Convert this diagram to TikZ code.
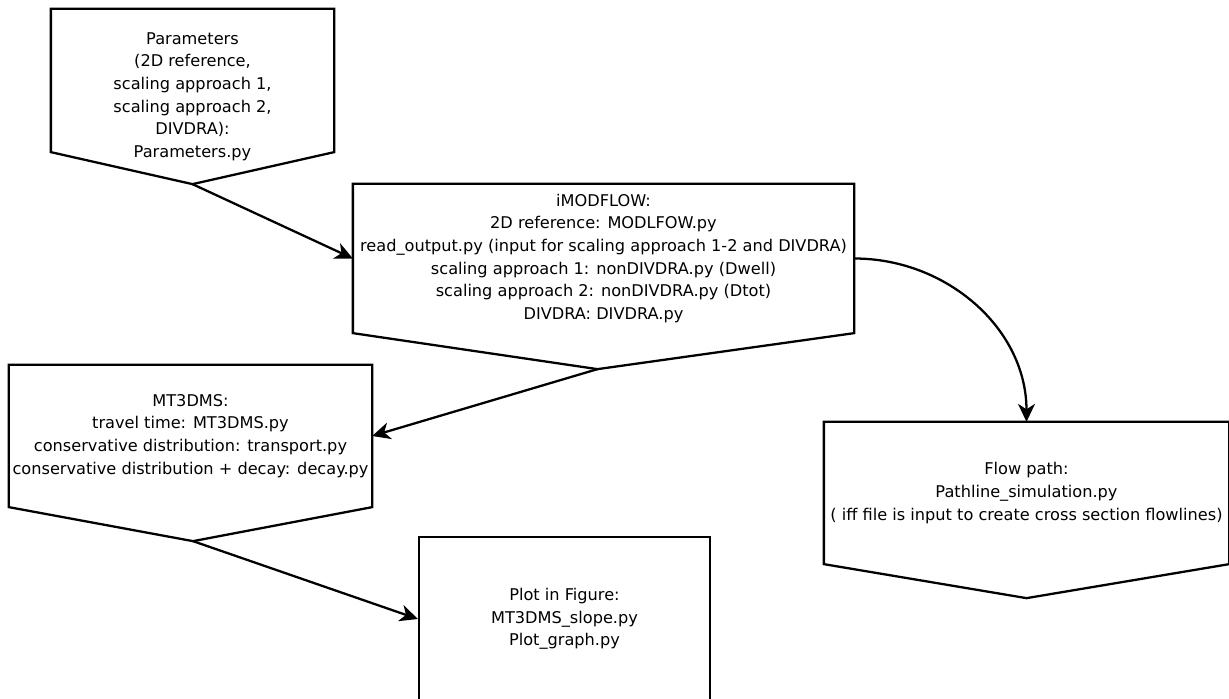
\documentclass[tikz,border=0pt]{standalone}
\usepackage{fontspec}
\setmainfont{DejaVu Sans}
\usetikzlibrary{arrows.meta,calc}

\begin{document}
\begin{tikzpicture}[line width=1.3pt,
    blk/.style={rectangle,align=center,inner sep=0pt,font=\fontsize{9.2}{12.9}\selectfont},
    conn/.style={-{Stealth[length=0.36cm,width=0.34cm,inset=0.11cm]}}]
  \useasboundingbox (0,0) rectangle (24.58,-13.98);
  % blocks
  \node[blk,minimum width=5.62cm,minimum height=3.46cm] (params) at (3.85,-1.93)
    {Parameters\\(2D reference,\\scaling approach 1,\\scaling approach 2,\\DIVDRA):\\Parameters.py};
  \coordinate (paramstip) at (params.south);
  \draw (params.north west) -- (params.north east) -- ($(params.south east)+(0,0.64)$)
    -- (paramstip) -- ($(params.south west)+(0,0.64)$) -- cycle;

  \node[blk,minimum width=9.98cm,minimum height=2.94cm] (imod) at (12.07,-5.17)
    {iMODFLOW:\\2D reference: MODLFOW.py\\read\_output.py (input for scaling approach 1-2 and DIVDRA)\\scaling approach 1: nonDIVDRA.py (Dwell)\\scaling approach 2: nonDIVDRA.py (Dtot)\\DIVDRA: DIVDRA.py};
  \coordinate (imodtip) at ($(imod.south)+(-0.12,-0.72)$);
  \draw (imod.north west) -- (imod.north east) -- (imod.south east) -- (imodtip) -- (imod.south west) -- cycle;

  \node[blk,minimum width=7.22cm,minimum height=2.80cm] (mt3d) at (3.81,-8.72)
    {MT3DMS:\\travel time: MT3DMS.py\\conservative distribution: transport.py\\conservative distribution + decay: decay.py};
  \coordinate (mt3dtip) at ($(mt3d.south)+(0.05,-0.68)$);
  \draw (mt3d.north west) -- (mt3d.north east) -- (mt3d.south east) -- (mt3dtip) -- (mt3d.south west) -- cycle;

  \node[blk,minimum width=8.06cm,minimum height=2.80cm] (flow) at (20.53,-9.86)
    {Flow path:\\Pathline\_simulation.py\\( iff file is input to create cross section flowlines)};
  \coordinate (flowtip) at ($(flow.south)+(0,-0.68)$);
  \draw (flow.north west) -- (flow.north east) -- (flow.south east) -- (flowtip) -- (flow.south west) -- cycle;

  \node[blk,draw,minimum width=5.82cm,minimum height=3.28cm] (plot) at (11.29,-12.38)
    {Plot in Figure:\\MT3DMS\_slope.py\\Plot\_graph.py};

  % connectors
  \draw[conn] (paramstip) -- (imod.west);
  \draw[conn] (imodtip) -- (mt3d.east);
  \draw[conn] (mt3dtip) -- (plot.west);
  \draw[conn] (imod.east) to[out=0,in=90] (flow.north);
\end{tikzpicture}
\end{document}
